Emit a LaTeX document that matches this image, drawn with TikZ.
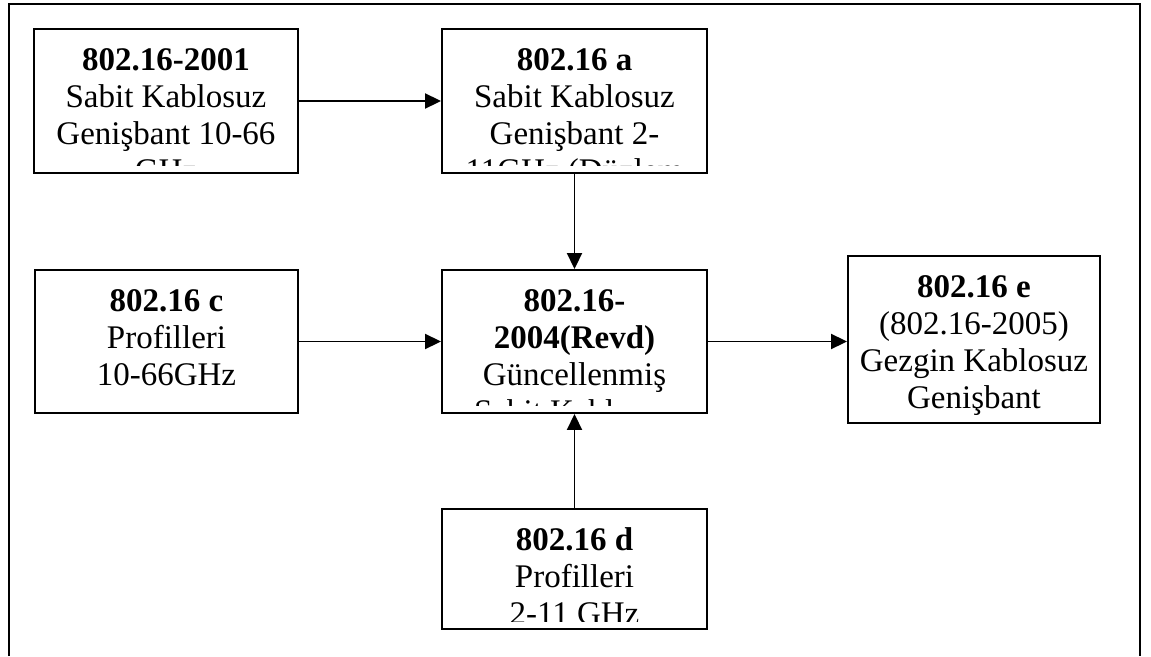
\documentclass[tikz,border=0pt]{standalone}
\usepackage{fontspec}
\setmainfont{Liberation Serif}
\usetikzlibrary{arrows.meta}

\newcommand{\headline}[1]{\rule{0pt}{28pt}\textbf{#1}}

\begin{document}
\begin{tikzpicture}[x=1pt, y=-1pt,
    line width=1.9pt, >={Triangle[length=16pt,width=15pt]},
    stdbox/.style={draw, inner sep=0pt, minimum width=265pt},
    stdtext/.style={anchor=north, align=center, inner sep=0pt,
      font=\fontsize{33}{37}\selectfont}]
  \useasboundingbox (0,0) rectangle (1151,656);

  % --- outer frame, open at the foot
  \draw (9,656) -- (9,4) -- (1140,4) -- (1140,656);

  % --- the boxes
  \node[stdbox, minimum width=264pt, minimum height=144pt] (s2001) at (166,101) {};
  \node[stdbox, minimum height=144pt] (s16a) at (574.5,101) {};
  \node[stdbox, minimum width=263pt, minimum height=143pt] (s16c) at (166.5,341.5) {};
  \node[stdbox, minimum height=143pt] (srev) at (574.5,341.5) {};
  \node[stdbox, minimum width=252pt, minimum height=167pt] (s16e) at (974,339.5) {};
  \node[stdbox, minimum height=120pt] (s16d) at (574.5,569) {};

  % --- texts, cut off above the lower edge
  \begin{scope}
    \clip ([yshift=8pt]s2001.south west) rectangle (s2001.north east);
    \node[stdtext] (t2001) at ([yshift=-13pt]s2001.north)
         {\headline{802.16-2001}\\Sabit Kablosuz\\Genişbant 10-66\\GHz};
  \end{scope}
  \begin{scope}
    \clip ([yshift=8pt]s16a.south west) rectangle (s16a.north east);
    \node[stdtext] (t16a) at ([yshift=-13pt]s16a.north)
         {\headline{802.16 a}\\Sabit Kablosuz\\Genişbant 2-\\11GHz (Düzlem};
  \end{scope}
  \begin{scope}
    \clip ([yshift=8pt]s16c.south west) rectangle (s16c.north east);
    \node[stdtext] (t16c) at ([yshift=-13pt]s16c.north)
         {\headline{802.16 c}\\Profilleri\\10-66GHz};
  \end{scope}
  \begin{scope}
    \clip ([yshift=8pt]srev.south west) rectangle (srev.north east);
    \node[stdtext] (trev) at ([yshift=-13pt]srev.north)
         {\headline{802.16-}\\\textbf{2004(Revd)}\\Güncellenmiş\\Sabit Kablosuz};
  \end{scope}
  \begin{scope}
    \clip ([yshift=8pt]s16e.south west) rectangle (s16e.north east);
    \node[stdtext] (t16e) at ([yshift=-13pt]s16e.north)
         {\headline{802.16 e}\\(802.16-2005)\\Gezgin Kablosuz\\Genişbant};
  \end{scope}
  \begin{scope}
    \clip ([yshift=8pt]s16d.south west) rectangle (s16d.north east);
    \node[stdtext] (t16d) at ([yshift=-13pt]s16d.north)
         {\headline{802.16 d}\\Profilleri\\2-11 GHz};
  \end{scope}

  % --- connectors
  \draw[->] (s2001) -- (s16a);
  \draw[->] (s16a) -- (srev);
  \draw[->] (s16c) -- (srev);
  \draw[->] (srev.east) -- (srev.east -| s16e.west);
  \draw[->] (s16d) -- (srev);
\end{tikzpicture}
\end{document}
